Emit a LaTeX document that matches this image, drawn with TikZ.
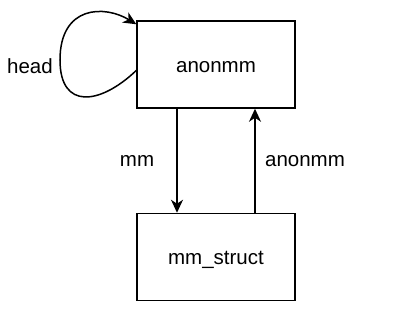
\documentclass[tikz,border=0pt]{standalone}
\usepackage{fontspec}
\setmainfont{Liberation Sans}
\usetikzlibrary{arrows.meta}
\begin{document}
\begin{tikzpicture}[x=1pt,y=-1pt,
  box/.style={draw,line width=1.5pt,minimum width=158pt,minimum height=87pt,inner sep=0pt,text height=16pt,text depth=0pt},
  lbl/.style={font=\fontsize{20.5}{24}\selectfont},
  conn/.style={line width=1.5pt,-{Stealth[length=13pt,width=12pt,inset=4pt]}}]
\useasboundingbox (0,0) rectangle (400,315);
\node[box,lbl] (top) at (216,64.5) {anonmm};
\node[box,lbl] (bot) at (216,257) {mm\_struct};
\coordinate (dA) at (177,108);
\draw[conn] (top.south -| dA) -- (bot.north -| dA);
\coordinate (uA) at (255,108);
\draw[conn] (bot.north -| uA) -- (top.south -| uA);
\node[lbl] (lmm) at (137,161) {mm};
\node[lbl] (lan) at (305,161) {anonmm};
\node[lbl] (lhead) at (30,66) {head};
\draw[conn] ([yshift=-6pt]top.west) .. controls (100,105) and (60,110) .. (60,60) .. controls (60,5) and (105,5) .. ([yshift=-4pt]top.north west);
\end{tikzpicture}
\end{document}
